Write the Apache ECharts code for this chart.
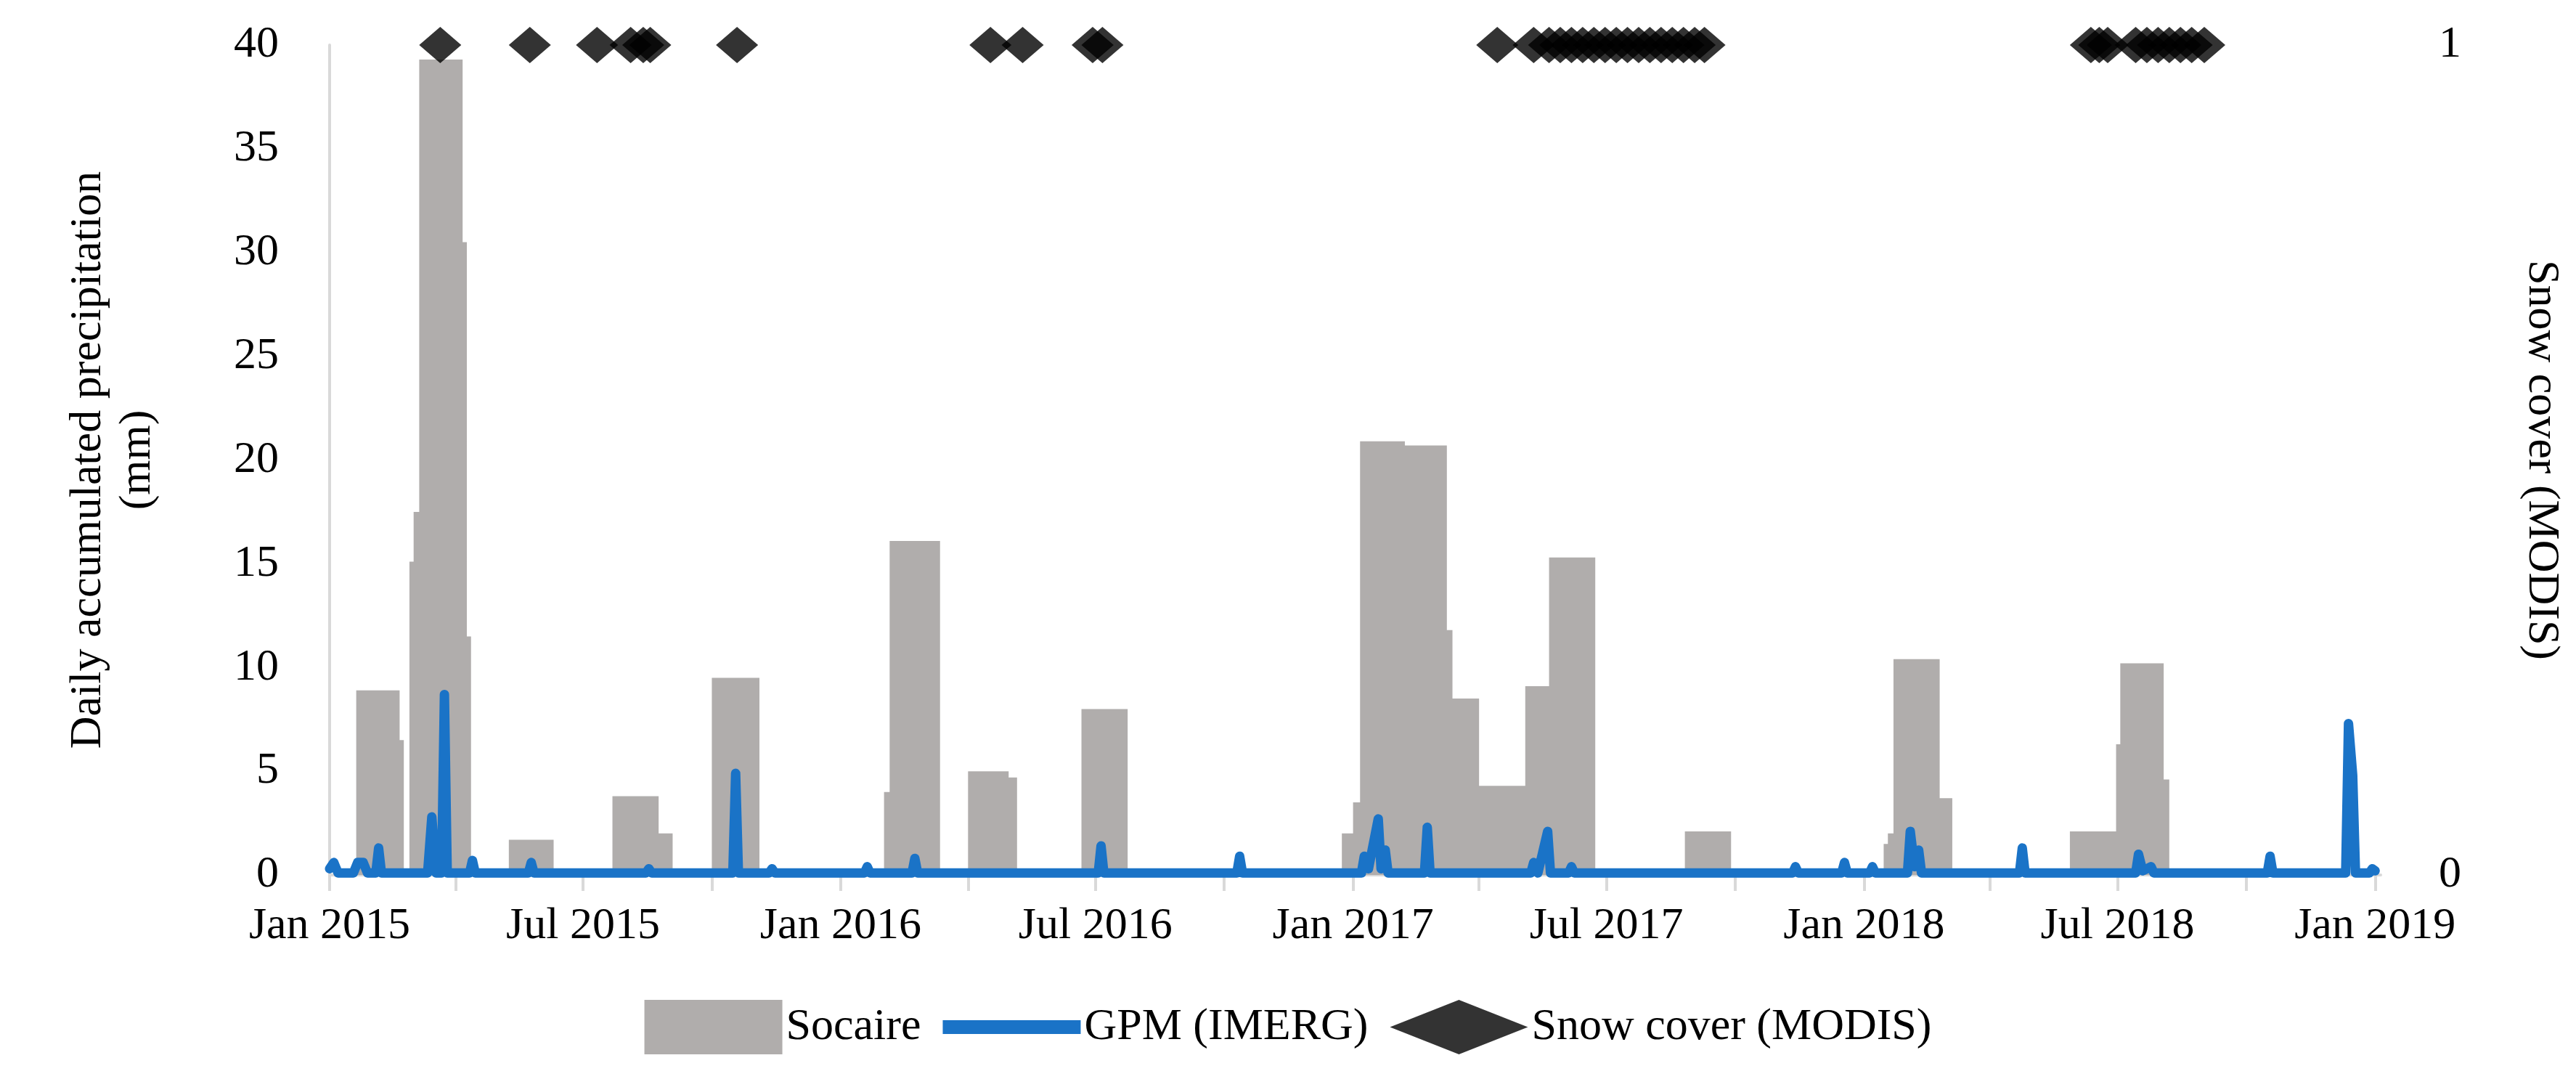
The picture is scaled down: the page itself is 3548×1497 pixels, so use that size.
<!DOCTYPE html>
<html><head><meta charset="utf-8">
<script src="https://cdn.jsdelivr.net/npm/echarts@6/dist/echarts.min.js"></script>
<style>html,body{margin:0;padding:0;background:#fff}#c{width:3548px;height:1497px}</style>
</head><body><div id="c"></div>
<script>
const tickDates = ['2015-01-01','2015-07-01','2016-01-01','2016-07-01','2017-01-01','2017-07-01','2018-01-01','2018-07-01','2019-01-01'];
const quarterTicks = ['2015-01-01','2015-04-01','2015-07-01','2015-10-01','2016-01-01','2016-04-01','2016-07-01','2016-10-01','2017-01-01','2017-04-01','2017-07-01','2017-10-01','2018-01-01','2018-04-01','2018-07-01','2018-10-01','2019-01-01'];
const socaireStart = ['2015-01-20','2015-02-20','2015-02-27','2015-03-02','2015-03-06','2015-04-06','2015-04-09','2015-05-09','2015-07-22','2015-08-24','2015-10-01','2016-02-01','2016-02-05','2016-04-01','2016-04-30','2016-06-21','2016-12-24','2017-01-01','2017-01-06','2017-02-07','2017-03-09','2017-03-13','2017-04-01','2017-05-04','2017-05-21','2017-08-26','2018-01-15','2018-01-18','2018-01-22','2018-02-24','2018-05-28','2018-06-30','2018-07-03','2018-08-03'];
const socaireEnd   = ['2015-02-20','2015-02-23','2015-03-02','2015-03-06','2015-04-06','2015-04-09','2015-04-12','2015-06-10','2015-08-24','2015-09-03','2015-11-04','2016-02-05','2016-03-12','2016-04-30','2016-05-06','2016-07-24','2017-01-01','2017-01-06','2017-02-07','2017-03-09','2017-03-13','2017-04-01','2017-05-04','2017-05-21','2017-06-23','2017-09-28','2018-01-18','2018-01-22','2018-02-24','2018-03-05','2018-06-30','2018-07-03','2018-08-03','2018-08-07'];
const socaireValue = [8.9,6.5,15.1,17.5,39.3,30.5,11.5,1.7,3.8,2.0,9.5,4.0,16.1,5.0,4.7,8.0,2.0,3.5,20.9,20.7,11.8,8.5,4.3,9.1,15.3,2.1,1.5,2.0,10.4,3.7,2.1,6.3,10.2,4.6];
const gpm = [['2015-01-01',0.3],['2015-01-04',0.6],['2015-01-07',0.1],['2015-01-18',0.1],['2015-01-21',0.6],['2015-01-25',0.6],['2015-01-28',0.1],['2015-02-03',0.1],['2015-02-05',1.3],['2015-02-07',0.1],['2015-03-12',0.1],['2015-03-15',2.8],['2015-03-18',0.1],['2015-03-22',0.1],['2015-03-24',8.7],['2015-03-26',0.1],['2015-04-11',0.1],['2015-04-13',0.7],['2015-04-15',0.1],['2015-05-23',0.1],['2015-05-25',0.6],['2015-05-27',0.1],['2015-08-15',0.1],['2015-08-17',0.3],['2015-08-19',0.1],['2015-10-16',0.1],['2015-10-18',4.9],['2015-10-20',0.1],['2015-11-11',0.1],['2015-11-13',0.3],['2015-11-15',0.1],['2016-01-18',0.1],['2016-01-20',0.4],['2016-01-22',0.1],['2016-02-21',0.1],['2016-02-23',0.8],['2016-02-25',0.1],['2016-07-03',0.1],['2016-07-05',1.4],['2016-07-07',0.1],['2016-10-10',0.1],['2016-10-12',0.9],['2016-10-14',0.1],['2017-01-07',0.1],['2017-01-09',0.9],['2017-01-12',0.3],['2017-01-19',2.7],['2017-01-21',0.3],['2017-01-24',1.2],['2017-01-26',0.1],['2017-02-21',0.1],['2017-02-23',2.3],['2017-02-25',0.1],['2017-05-08',0.1],['2017-05-10',0.6],['2017-05-13',0.1],['2017-05-20',2.1],['2017-05-22',0.1],['2017-06-04',0.1],['2017-06-06',0.4],['2017-06-08',0.1],['2017-11-11',0.1],['2017-11-13',0.4],['2017-11-15',0.1],['2017-12-16',0.1],['2017-12-18',0.6],['2017-12-20',0.1],['2018-01-05',0.1],['2018-01-07',0.4],['2018-01-09',0.1],['2018-02-01',0.1],['2018-02-03',2.1],['2018-02-06',0.4],['2018-02-09',1.2],['2018-02-11',0.1],['2018-04-22',0.1],['2018-04-24',1.3],['2018-04-26',0.1],['2018-07-14',0.1],['2018-07-16',1.0],['2018-07-19',0.2],['2018-07-25',0.4],['2018-07-27',0.1],['2018-10-16',0.1],['2018-10-18',0.9],['2018-10-20',0.1],['2018-12-11',0.1],['2018-12-13',7.3],['2018-12-16',4.8],['2018-12-18',0.1],['2018-12-28',0.1],['2018-12-30',0.3],['2019-01-01',0.2]];
const snowDates = ['2015-03-21','2015-05-24','2015-07-11','2015-08-04','2015-08-13','2015-08-18','2015-10-19','2016-04-17','2016-05-10','2016-06-29','2016-07-06','2017-04-14','2017-05-10','2017-05-21','2017-05-29','2017-06-06','2017-06-14','2017-06-22','2017-06-30','2017-07-08','2017-07-16','2017-07-24','2017-08-01','2017-08-09','2017-08-17','2017-08-25','2017-09-02','2017-09-09','2018-06-12','2018-06-18','2018-06-24','2018-07-14','2018-07-22','2018-07-30','2018-08-07','2018-08-15','2018-08-23','2018-09-01'];
const snowValue = 1;

const ts = d => new Date(d + 'T00:00:00Z').getTime();
const socaireData = [];
for (let i = 0; i < socaireStart.length; i++) {
  socaireData.push([ts(socaireStart[i]),0],[ts(socaireStart[i]),socaireValue[i]],[ts(socaireEnd[i]),socaireValue[i]],[ts(socaireEnd[i]),0]);
}
const M = ['Jan','Feb','Mar','Apr','May','Jun','Jul','Aug','Sep','Oct','Nov','Dec'];
const font = 'Liberation Serif';
const chart = echarts.init(document.getElementById('c'));
chart.setOption({
  animation:false,
  textStyle:{fontFamily:font},
  grid:{left:454,right:269,top:62,bottom:292},
  legend:{bottom:40,left:'center',itemWidth:190,itemHeight:75,itemGap:30,
    textStyle:{fontFamily:font,fontSize:62,color:'#000'},
    data:[{name:'Socaire',icon:'rect'},{name:'GPM (IMERG)',icon:'path://M0,0L10,0L10,1L0,1Z'},{name:'Snow cover (MODIS)',icon:'diamond'}]},
  xAxis:{type:'value',min:ts('2015-01-01'),max:ts('2019-01-05'),
    axisLine:{lineStyle:{color:'#d9d9d9',width:4}},
    axisTick:{show:true,customValues:quarterTicks.map(ts),length:22,inside:false,lineStyle:{color:'#d9d9d9',width:4}},
    axisLabel:{customValues:tickDates.map(ts),margin:40,fontSize:62,color:'#000',fontFamily:font,
      formatter:v=>{const d=new Date(v);return M[d.getUTCMonth()]+' '+d.getUTCFullYear();}},
    splitLine:{show:false}},
  yAxis:[
    {type:'value',min:0,max:40,interval:5,name:'Daily accumulated precipitation\n(mm)',nameLocation:'middle',nameGap:230,
     nameTextStyle:{fontSize:62,color:'#000',fontFamily:font,lineHeight:68},
     axisLine:{show:true,lineStyle:{color:'#d9d9d9',width:4}},axisTick:{show:false},
     axisLabel:{fontSize:62,color:'#000',fontFamily:font,margin:70},splitLine:{show:false}},
    {type:'value',min:0,max:1,interval:1,name:'Snow cover (MODIS)',nameLocation:'middle',nameGap:190,nameRotate:-90,
     nameTextStyle:{fontSize:62,color:'#000',fontFamily:font},
     axisLine:{show:false},axisTick:{show:false},
     axisLabel:{fontSize:62,color:'#000',fontFamily:font,margin:80},splitLine:{show:false}}
  ],
  series:[
    {name:'Socaire',type:'line',data:socaireData,symbol:'none',lineStyle:{width:0},areaStyle:{color:'#b0adac',opacity:1},itemStyle:{color:'#b0adac'},z:1},
    {name:'GPM (IMERG)',type:'line',data:gpm.map(p=>[ts(p[0]),p[1]]),symbol:'none',lineStyle:{color:'#1a73c7',width:13,cap:'round',join:'round'},itemStyle:{color:'#1a73c7'},z:2},
    {name:'Snow cover (MODIS)',type:'scatter',yAxisIndex:1,data:snowDates.map(d=>[ts(d),snowValue]),symbol:'diamond',symbolSize:[58,50],itemStyle:{color:'#000'},z:3}
  ]
});
</script></body></html>
